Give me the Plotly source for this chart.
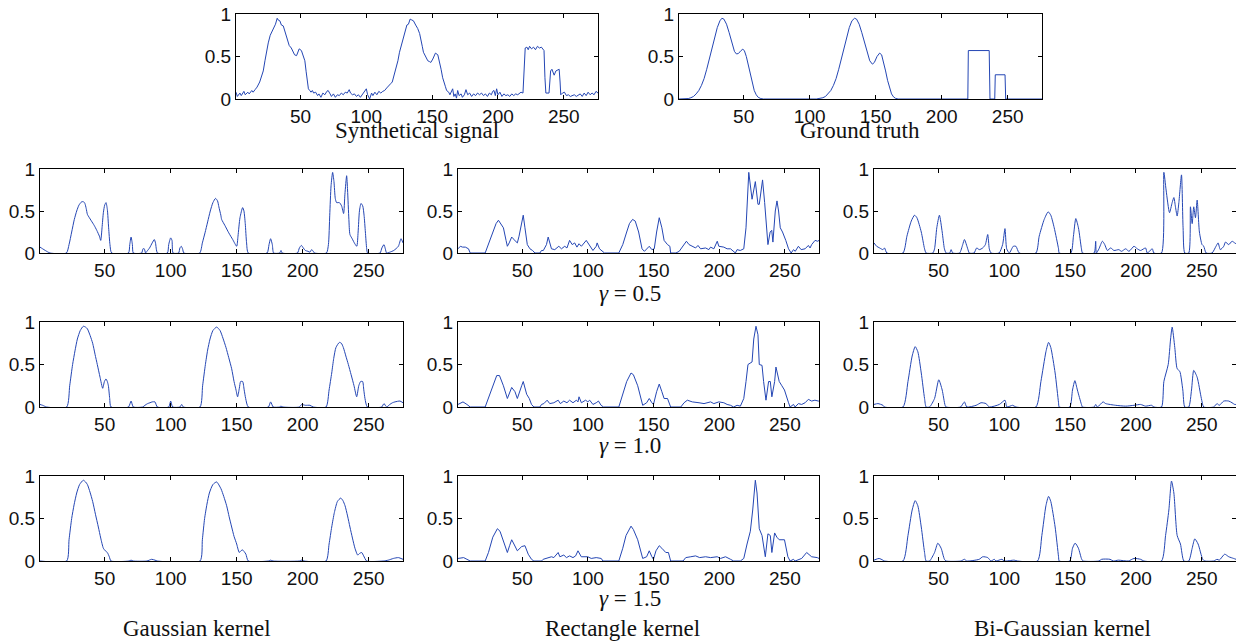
import plotly.graph_objects as go

# ---------------- data (x, y) ----------------
SYNTH = [(1,0.08),(2,0.03),(4,0.07),(5,0.04),(7,0.09),(8,0.05),(10,0.08),(11,0.06),(13,0.1),(14,0.08),(15.5,0.11),(17,0.14),(19,0.2),(20.5,0.27),(21.7,0.33),(23,0.45),(24,0.55),(25.5,0.66),(27,0.75),(28.5,0.8),(29.8,0.86),(31,0.88),(32.3,0.95),(33,0.93),(34.3,0.92),(35.5,0.87),(36.9,0.86),(38,0.8),(39.4,0.75),(40.5,0.68),(41.4,0.63),(43,0.6),(44.4,0.55),(45.5,0.52),(47,0.51),(48,0.56),(49,0.59),(50.7,0.57),(52,0.52),(53.3,0.45),(54.3,0.32),(55.3,0.2),(56,0.12),(57,0.1),(58,0.08),(59,0.1),(60,0.07),(61.5,0.08),(63,0.04),(64,0.06),(65.5,0.02),(67,0.07),(68.5,0.05),(70,0.09),(71,0.1),(72.5,0.06),(73.5,0.03),(75,0.06),(76.5,0.02),(78,0.05),(79.5,0.04),(81,0.07),(82.5,0.05),(84,0.08),(85.5,0.07),(87,0.11),(88,0.07),(89.5,0.05),(91,0.06),(92.5,0.03),(94,0.05),(95.5,0.02),(97,0.05),(98.5,0.08),(100,0.12),(101,0.05),(102.5,0.0),(104,0.07),(105,0.04),(106.5,0.08),(108,0.05),(109.5,0.09),(111,0.07),(112.5,0.09),(113.9,0.1),(115.5,0.13),(117,0.15),(118.5,0.18),(119.7,0.2),(121,0.27),(122.7,0.35),(124,0.45),(125.2,0.55),(126.8,0.65),(128.3,0.75),(129.5,0.82),(130.8,0.87),(132,0.88),(133.3,0.94),(134.5,0.93),(135.8,0.92),(137.5,0.87),(139,0.83),(140.5,0.77),(141.7,0.7),(142.5,0.62),(143.4,0.55),(145,0.5),(146.7,0.45),(148,0.44),(149,0.43),(150.5,0.47),(152.5,0.54),(154.3,0.52),(155.5,0.45),(156.8,0.35),(158,0.25),(159,0.18),(160,0.15),(161,0.1),(162.6,0.08),(163.5,0.05),(164.5,0.09),(165.6,0.12),(166.5,0.03),(167.5,0.06),(168.5,0.01),(169.4,0.1),(170.5,0.04),(172,0.06),(173,0.02),(174.5,0.05),(175.7,0.11),(177,0.05),(178.5,0.07),(180,0.03),(181.5,0.06),(183,0.04),(184.5,0.07),(186,0.05),(187.5,0.07),(189,0.04),(190.5,0.06),(192,0.03),(193.5,0.07),(195,0.05),(196,0.09),(197,0.1),(198,0.04),(199,0.12),(200,0.05),(201.5,0.08),(203,0.03),(204.5,0.06),(206,0.04),(207.5,0.05),(209,0.03),(210.5,0.06),(212,0.04),(213.5,0.06),(215,0.05),(216.5,0.07),(217.5,0.08),(219,0.07),(220,0.35),(220.7,0.6),(222,0.61),(223,0.58),(224,0.62),(225.5,0.59),(227,0.61),(228.5,0.58),(230,0.62),(231.5,0.6),(233,0.61),(234.3,0.59),(235,0.57),(235.7,0.25),(236.4,0.07),(238.8,0.07),(239.5,0.2),(240,0.33),(241,0.35),(242,0.3),(242.7,0.28),(244,0.33),(245,0.34),(246.5,0.35),(247.2,0.2),(247.7,0.05),(249,0.07),(250.5,0.08),(252,0.04),(253.5,0.05),(255,0.03),(256.5,0.04),(258,0.05),(259.5,0.03),(261,0.05),(262.5,0.06),(264,0.03),(265.5,0.07),(267,0.04),(268.5,0.08),(270,0.05),(271.5,0.07),(273,0.05),(274.5,0.09),(276,0.07)]

TRUTH = [(1,0),(6,0),(8,0.005),(10,0.015),(12,0.03),(14,0.06),(16,0.1),(18,0.16),(20,0.24),(22,0.35),(24,0.47),(26,0.6),(28,0.72),(30,0.84),(32,0.92),(33.5,0.95),(35,0.94),(37,0.88),(39,0.78),(41,0.66),(43,0.56),(44.5,0.53),(46,0.535),(48,0.57),(49.3,0.585),(50.5,0.57),(52,0.5),(53.5,0.4),(55,0.29),(56.5,0.18),(58,0.1),(59.5,0.05),(61,0.02),(63,0.005),(65,0),(105,0),(108,0.005),(110,0.015),(112,0.03),(114,0.06),(116,0.1),(118,0.16),(120,0.24),(122,0.35),(124,0.47),(126,0.6),(128,0.72),(130,0.84),(132,0.92),(134,0.95),(135.5,0.94),(137.5,0.88),(139.5,0.78),(141.5,0.66),(143.5,0.55),(145.5,0.45),(147.5,0.41),(149,0.43),(151,0.5),(153,0.54),(154.5,0.52),(156,0.44),(157.5,0.33),(159,0.22),(160.5,0.13),(162,0.06),(163.5,0.025),(165,0.008),(167,0),(219.8,0),(220.2,0.57),(236,0.57),(236.6,0),(240.2,0),(240.6,0.285),(248,0.285),(248.5,0),(276,0)]

GAUSS_05 = [(1,0.07),(3,0.05),(5,0.03),(8.6,0),(21,0),(23,0.1),(25,0.25),(27,0.4),(28.8,0.5),(30.5,0.57),(32.6,0.61),(34,0.61),(35,0.59),(36,0.53),(36.9,0.46),(38,0.43),(40,0.38),(42,0.33),(44,0.27),(46,0.2),(47,0.15),(48,0.3),(49,0.48),(50,0.57),(51,0.6),(52,0.52),(53,0.3),(54,0.1),(55.3,0),(68,0),(69,0.1),(70,0.19),(71,0.1),(71.7,0),(78,0),(79,0.05),(80,0.05),(81,0),(82,0.02),(84,0.06),(86,0.12),(87.6,0.16),(88.5,0.12),(90,0),(97.5,0),(98.5,0.1),(100,0.18),(101,0.15),(101.8,0),(106,0),(107,0.06),(108,0.08),(109,0.05),(110,0),(122,0),(124,0.12),(126,0.24),(128,0.37),(130,0.5),(132,0.6),(134,0.65),(135.5,0.62),(136.5,0.55),(138,0.45),(138.6,0.4),(141,0.33),(144,0.24),(147,0.16),(150,0.08),(151,0.2),(152.5,0.42),(154.5,0.54),(155.5,0.5),(156.5,0.35),(157.5,0.12),(158.8,0),(173,0),(174.5,0.1),(175.7,0.17),(177,0.1),(178,0),(182.5,0),(183.6,0.03),(184.5,0),(196,0),(197.5,0.06),(199,0.09),(200.5,0.06),(202,0.03),(204,0.02),(205.5,0.01),(206.8,0.04),(208,0.02),(209,0),(218,0),(219.5,0.1),(220.5,0.45),(221.5,0.8),(222.7,0.96),(223.7,0.85),(224.7,0.65),(225.7,0.6),(227.8,0.6),(229.5,0.56),(231,0.47),(232,0.7),(233.3,0.92),(234,0.75),(235,0.4),(235.8,0.22),(237.5,0.17),(239.5,0.11),(241,0.08),(242,0.25),(243,0.5),(244.2,0.59),(245.5,0.56),(246.5,0.45),(247.5,0.25),(248.5,0.05),(249.2,0),(258.6,0),(260,0.06),(261.6,0.1),(262.6,0.05),(263.6,0),(266,0.01),(269,0.03),(272.5,0.08),(274.5,0.17),(276,0.12)]

RECT_05 = [(1,0.05),(2.8,0.08),(4.5,0.07),(6.6,0.07),(9,0.05),(10.3,0),(21.7,0),(24.2,0.1),(26,0.17),(28,0.25),(30,0.35),(31.8,0.39),(33.6,0.35),(35.6,0.3),(37.6,0.15),(38.6,0.08),(40,0.12),(41.9,0.19),(43,0.17),(44.4,0.15),(46.2,0.12),(47.5,0.2),(48.7,0.3),(50.7,0.45),(52,0.3),(53.8,0.1),(55.8,0.05),(57.8,0.03),(59.6,0),(63.4,0),(64.6,0.03),(66,0.03),(68.4,0.1),(69.7,0.19),(72.2,0.05),(74.7,0.04),(77.8,0.08),(79.8,0.05),(82.3,0.08),(84,0.06),(86,0.15),(88,0.1),(89.9,0.12),(91.6,0.07),(93.2,0.11),(95,0.08),(98.7,0.15),(101.3,0.08),(103.8,0.03),(106.3,0.08),(107,0.12),(108.8,0.05),(110.8,0.02),(112.6,0),(123.5,0),(126.5,0.1),(129.5,0.25),(131.6,0.35),(134,0.4),(136,0.38),(138.6,0.25),(141.2,0.05),(143,0.02),(146.7,0.08),(148.7,0.04),(150.5,0.05),(152.3,0.25),(154.3,0.42),(156.3,0.3),(158,0.15),(160.6,0.1),(162.4,0.08),(163,0),(167,0),(169.5,0.02),(173.2,0.1),(175,0.14),(177,0.1),(179.5,0.08),(182,0.06),(183.8,0.09),(185.8,0.05),(189.6,0.06),(192.1,0.04),(193.4,0.07),(195.9,0.05),(198.5,0.14),(199.7,0.08),(203.5,0.07),(206,0.05),(208.6,0.05),(211,0.02),(212.3,0),(213.6,0.04),(216,0.03),(218.7,0.05),(220.4,0.3),(222.5,0.96),(223.7,0.82),(225,0.64),(227.5,0.85),(229.5,0.58),(230.5,0.58),(233,0.87),(234.6,0.6),(236.4,0.15),(237.1,0.1),(238.8,0.25),(240,0.27),(240.9,0.13),(241.9,0.35),(242.7,0.5),(244,0.62),(245.2,0.5),(246.5,0.3),(248.2,0.25),(250.7,0.15),(252.8,0.05),(254.8,0),(256.6,0.04),(257.9,0.02),(260.3,0.08),(262.4,0.04),(265.4,0.05),(267.9,0.09),(269.2,0.06),(270.4,0.1),(273,0.15),(275,0.14),(276,0.15)]

BIGAUSS_05 = [(1,0.12),(3,0.08),(5.3,0.06),(7.8,0.04),(9,0.06),(10.8,0),(23,0),(26,0.2),(29.3,0.38),(31.8,0.45),(33.6,0.42),(36.9,0.25),(39.4,0.05),(40.6,0),(45.7,0),(47,0.05),(48.7,0.3),(50.7,0.45),(52.8,0.25),(54.5,0.05),(55.8,0),(58.5,0),(59.6,0.04),(60.8,0),(66,0),(68.4,0.1),(69.7,0.16),(72.2,0.05),(73.4,0),(77,0),(79,0.06),(81,0.04),(83.6,0.06),(85.6,0.1),(87.4,0.22),(88.6,0.05),(89.9,0),(96,0),(98.7,0.1),(100.5,0.29),(101.8,0.05),(103.8,0),(106.8,0.08),(108.8,0.08),(111.4,0),(124,0),(126.5,0.2),(130.3,0.4),(133.3,0.49),(135.3,0.45),(137.9,0.3),(141.2,0.05),(141.7,0),(150.5,0),(152.5,0.2),(154.3,0.41),(156.3,0.3),(158.6,0.05),(159.4,0),(168.2,0),(169.4,0.14),(169.9,0),(171.9,0.05),(174.5,0.14),(176.3,0.1),(178.3,0.03),(180.8,0.06),(183.3,0.03),(187,0.04),(189,0.02),(192.2,0.05),(194.7,0.02),(198.5,0.08),(201,0.05),(203.5,0.03),(207.3,0.06),(208.6,0),(212.4,0.05),(213.6,0),(219.4,0),(221.2,0.96),(222.9,0.75),(225.5,0.48),(227.5,0.6),(228.8,0.66),(230,0.55),(231.3,0.44),(232.6,0.6),(234.6,0.93),(235.8,0.3),(237.1,0),(240.1,0),(241.4,0.55),(242.7,0.35),(243.9,0.55),(245.2,0.42),(246.5,0.63),(248.2,0.25),(250.2,0.1),(251.5,0.08),(253.3,0),(257.8,0),(260.8,0.08),(262.4,0.12),(264.1,0.04),(266.7,0.08),(268,0.13),(270.5,0.1),(273,0.14),(275,0.12),(276,0.11)]

GAUSS_10 = [(1,0.03),(3,0.02),(6,0),(21.2,0),(23.5,0.25),(25.7,0.5),(27.5,0.66),(29.3,0.8),(31.5,0.9),(33.8,0.95),(35.5,0.94),(36.9,0.92),(39,0.84),(40.9,0.75),(42.7,0.62),(44.4,0.5),(46.5,0.35),(48.5,0.22),(49.8,0.3),(51,0.33),(52,0.3),(52.8,0.25),(53.8,0.1),(54.8,0),(68,0),(70,0.07),(71.7,0),(78.8,0),(80.5,0.02),(82.5,0.04),(84.3,0.05),(86,0.06),(88.1,0.06),(89.9,0),(98.5,0),(100,0.07),(101.5,0),(107,0),(108.3,0.03),(109.7,0),(122.2,0),(124.2,0.25),(126.3,0.5),(128,0.67),(129.8,0.8),(132,0.9),(134.8,0.94),(137.4,0.9),(139.6,0.81),(141.9,0.7),(144,0.58),(146.2,0.45),(148,0.3),(149.5,0.2),(150.7,0.12),(152,0.22),(153,0.3),(154.5,0.3),(155.7,0.2),(156.8,0.1),(158.8,0),(174,0),(175.7,0.06),(177.7,0),(182.5,0),(183.5,0.01),(185,0),(197.5,0),(199.2,0.03),(202,0.02),(205.5,0.02),(208,0),(217.7,0),(220,0.2),(222,0.4),(223.5,0.57),(225.2,0.7),(227.8,0.76),(229.3,0.75),(230.8,0.7),(232.7,0.6),(234.6,0.5),(236.7,0.38),(238.9,0.25),(240.9,0.12),(242.5,0.25),(243.9,0.3),(245.4,0.3),(246.3,0.2),(247.2,0.1),(249,0),(259.8,0),(261.6,0.04),(263.6,0),(266,0.03),(268,0.05),(269.9,0.06),(273.7,0.07),(276,0.05)]

RECT_10 = [(1,0.03),(4.8,0.06),(7.8,0.03),(10.3,0),(21.7,0),(24.2,0.1),(27.5,0.25),(30.5,0.37),(32.6,0.37),(35.6,0.25),(38.6,0.1),(40.3,0.17),(41.9,0.23),(44.4,0.18),(46.2,0.1),(49.5,0.25),(50.7,0.3),(53.3,0.15),(55.3,0.1),(57,0.03),(58.8,0),(63.4,0),(64.6,0.03),(66.4,0.04),(68.9,0.08),(70.9,0.04),(74,0.05),(77.3,0.08),(79,0.04),(81.6,0.07),(84,0.05),(86,0.08),(88.6,0.05),(91.2,0.08),(92.4,0.06),(93.2,0.12),(95,0.05),(98.2,0.08),(99.9,0.06),(101.3,0.08),(103.8,0.03),(106.3,0.05),(108,0.07),(110,0.02),(111.9,0),(123.5,0),(126.5,0.15),(129.5,0.3),(132.8,0.4),(134.6,0.38),(137.9,0.25),(141.7,0.02),(144.7,0.05),(146.7,0.1),(148.7,0.05),(149.9,0.03),(152.3,0.18),(154.3,0.27),(156.3,0.18),(158,0.1),(160.6,0.1),(161.8,0.05),(163,0),(170.7,0),(173.2,0.05),(175.7,0.08),(179.5,0.06),(184.6,0.05),(188.4,0.04),(193.4,0.06),(195.9,0.04),(199.7,0.06),(203.5,0.05),(206,0.03),(208.6,0.02),(211,0),(213.6,0.02),(216.1,0.01),(218.7,0.1),(220.4,0.3),(221.9,0.5),(225,0.53),(226.3,0.8),(228,0.95),(229.5,0.85),(230.5,0.5),(232.6,0.49),(233.8,0.3),(235.6,0.08),(237.6,0.3),(238.9,0.3),(240.1,0.12),(242.2,0.3),(243.2,0.47),(245.7,0.3),(247.7,0.25),(249.7,0.2),(252.8,0.05),(254,0),(256.6,0.03),(257.8,0),(260.3,0.04),(262.8,0.03),(265.4,0.05),(267.9,0.09),(270.4,0.07),(272.9,0.08),(275.5,0.07),(276,0.07)]

BIGAUSS_10 = [(1,0.03),(4,0.04),(7.8,0.02),(9,0),(23,0),(26.8,0.3),(30,0.6),(32.3,0.71),(34.3,0.65),(36.9,0.4),(39.4,0.1),(40.6,0),(43.2,0),(47,0.1),(50.2,0.32),(52.8,0.2),(55,0.02),(55.8,0),(66.7,0),(69.7,0.06),(71.5,0),(78.6,0.02),(82.3,0.05),(86.1,0.04),(88.6,0),(96.2,0.03),(100.5,0.08),(102,0),(106.3,0.02),(108.8,0),(124,0),(127.8,0.3),(131.6,0.65),(133.6,0.76),(135.3,0.7),(138.6,0.4),(141.2,0.05),(141.7,0),(149.7,0),(151.8,0.2),(153.6,0.31),(155.5,0.2),(158.6,0.03),(159.4,0),(168.2,0),(169.4,0.03),(170.7,0),(175,0.06),(177,0.04),(184.6,0.02),(192.2,0.01),(198.5,0.02),(203.5,0.03),(207.3,0.01),(211.9,0.02),(213.6,0),(219.4,0),(221.2,0.3),(224.5,0.5),(226.3,0.8),(227.5,0.94),(229.5,0.7),(231.3,0.45),(233.3,0.42),(235.6,0.2),(237.1,0),(240.1,0),(242.2,0.2),(243.9,0.43),(246.5,0.35),(249.7,0.1),(251.5,0),(259,0),(261.6,0.04),(263.3,0.02),(266.7,0.07),(270.5,0.07),(273,0.05),(275,0.03),(276,0.03)]

GAUSS_15 = [(1,0),(21.2,0),(23,0.25),(25,0.5),(26.8,0.66),(28.8,0.8),(31,0.9),(33.8,0.95),(35.5,0.93),(36.9,0.9),(38.9,0.81),(40.9,0.7),(43,0.55),(45.2,0.4),(47,0.27),(49,0.15),(50.5,0.12),(52,0.1),(53.5,0.05),(54.8,0),(68.5,0),(70,0.01),(71.5,0),(82,0),(85.6,0.02),(88.1,0.01),(90,0),(122.2,0),(124,0.25),(125.7,0.5),(127.5,0.67),(129.3,0.8),(132,0.9),(134.8,0.93),(138.1,0.85),(140.2,0.76),(142.4,0.65),(144.3,0.52),(146.2,0.4),(148,0.29),(150,0.2),(151,0.14),(152,0.1),(153.2,0.12),(154.5,0.13),(155.7,0.11),(157,0.08),(158.8,0),(174,0),(175.7,0.01),(177.5,0),(197.5,0),(199.2,0.01),(201,0),(217.7,0),(220,0.2),(222,0.4),(224,0.57),(226.3,0.7),(228.8,0.74),(230.5,0.71),(232.1,0.65),(234,0.53),(235.8,0.4),(237.7,0.27),(239.6,0.15),(241.7,0.07),(243.2,0.09),(244.7,0.1),(246.2,0.06),(248.5,0),(261,0),(264.8,0.01),(268.7,0.03),(272.5,0.04),(276,0.02)]

RECT_15 = [(1,0.03),(5.3,0.04),(7.8,0.02),(10.3,0),(21.7,0),(24.2,0.1),(27.5,0.28),(31,0.38),(33,0.35),(36.1,0.2),(38.6,0.1),(40.3,0.18),(41.9,0.25),(43.6,0.2),(46.2,0.12),(49.5,0.17),(52,0.18),(54.5,0.08),(57,0.02),(58.8,0),(64.6,0),(65.9,0.02),(68.4,0.03),(72.2,0.05),(74,0.04),(77.3,0.1),(78.6,0.05),(81.6,0.07),(83.6,0.04),(86,0.06),(88.6,0.04),(90.6,0.06),(92.4,0.12),(94.9,0.05),(99.9,0.05),(102.5,0.03),(106.3,0.04),(110.1,0.03),(111.4,0),(123.5,0),(126.5,0.15),(129,0.3),(132.8,0.41),(134.6,0.37),(137.9,0.25),(141.7,0.03),(144.7,0.05),(146.7,0.12),(148.7,0.05),(149.9,0.02),(151.8,0.12),(154.3,0.18),(156.3,0.15),(159.3,0.1),(161.3,0.1),(162.3,0.03),(163,0),(172.4,0),(174.5,0.04),(178.3,0.05),(182,0.06),(185.1,0.04),(189.6,0.05),(193.4,0.04),(198.5,0.05),(201,0.03),(204.8,0.05),(208.6,0.02),(211,0),(216.1,0),(218.7,0.03),(221.2,0.2),(223.7,0.35),(225.5,0.6),(227.5,0.95),(228.8,0.8),(230.5,0.38),(232.6,0.3),(235.1,0.05),(237.1,0.32),(238.9,0.3),(240.1,0.1),(242.2,0.33),(243.9,0.28),(245.7,0.25),(249.7,0.25),(252.3,0.05),(254,0),(256.6,0.02),(257.8,0),(260.8,0.02),(262.8,0.03),(266.6,0.1),(267.9,0.08),(270.4,0.05),(274.7,0.04),(276,0.03)]

BIGAUSS_15 = [(1,0.01),(4.8,0.03),(7.8,0.01),(9,0),(23,0),(26.8,0.3),(30,0.6),(32.3,0.71),(34.3,0.65),(36.9,0.4),(39.4,0.1),(40.6,0),(43.2,0),(47,0.1),(49.5,0.21),(52,0.15),(54.5,0.02),(55.8,0),(67,0),(69.7,0.02),(71.5,0),(80.9,0.02),(83.6,0.05),(87.4,0.04),(89.9,0),(92.4,0.02),(93.7,0),(98.2,0.02),(100,0),(107.5,0.01),(110,0),(125.2,0),(128.5,0.3),(131.6,0.65),(133.6,0.76),(135.3,0.7),(138.6,0.4),(141.2,0.05),(141.7,0),(149.7,0),(151.8,0.15),(153.8,0.21),(156.3,0.15),(158.8,0.02),(159.9,0),(171.9,0),(173.9,0.02),(180.3,0.02),(182.8,0),(186.6,0.01),(194.2,0),(198.5,0.03),(203.5,0.02),(206,0),(219.4,0),(222.5,0.3),(225,0.6),(227,0.94),(228.8,0.8),(231.3,0.3),(233.8,0.2),(236.4,0),(240.1,0),(242.7,0.15),(244.7,0.26),(247.2,0.2),(250.7,0.02),(252.3,0),(259,0),(261.6,0.02),(263.3,0.01),(267.4,0.08),(270.5,0.05),(274.2,0.03),(276,0.02)]

X_TICKS = [50, 100, 150, 200, 250]
Y_TICKS = [0, 0.5, 1]
Y_TICK_TEXT = ["0", "0.5", "1"]
X_RANGE = [1, 276]

TOP_TITLES = ["Synthetical signal", "Ground truth"]
GAMMA_LABELS = ["<i>γ</i> = 0.5", "<i>γ</i> = 1.0", "<i>γ</i> = 1.5"]
KERNEL_LABELS = ["Gaussian kernel", "Rectangle kernel", "Bi-Gaussian kernel"]

# ---------------- layout geometry (pixels) ----------------
W, H = 1236, 642
LINE_COLOR = "#2446b4"

def px_x(a, b):
    return [a / W, min(b / W, 1.0)]

def px_y(top, bottom):
    return [1 - bottom / H, 1 - top / H]

panels = [
    # (data, x-domain px, y-domain px, smooth)
    (SYNTH, (236, 598), (14, 99), False),
    (TRUTH, (679, 1042), (14, 99), False),
    (GAUSS_05, (40, 403), (169, 253), True),
    (RECT_05, (458, 819), (169, 253), False),
    (BIGAUSS_05, (874, 1236), (169, 253), True),
    (GAUSS_10, (40, 403), (322, 407), True),
    (RECT_10, (458, 819), (322, 407), False),
    (BIGAUSS_10, (874, 1236), (322, 407), True),
    (GAUSS_15, (40, 403), (476, 561), True),
    (RECT_15, (458, 819), (476, 561), False),
    (BIGAUSS_15, (874, 1236), (476, 561), True),
]

fig = go.Figure()
layout = {}
tick_font = dict(family="Liberation Sans, Arial, sans-serif", size=19, color="#111111")
for i, (data, xd, yd, smooth) in enumerate(panels, start=1):
    xs = [p[0] for p in data]
    ys = [p[1] for p in data]
    sfx = "" if i == 1 else str(i)
    line = dict(color=LINE_COLOR, width=1)
    if smooth:
        line.update(shape="spline", smoothing=0.6)
    fig.add_trace(go.Scatter(x=xs, y=ys, mode="lines", line=line,
                             xaxis="x" + sfx, yaxis="y" + sfx,
                             showlegend=False, hoverinfo="skip"))
    common = dict(showline=True, linecolor="black", linewidth=1, mirror="ticks",
                  ticks="inside", ticklen=4, tickwidth=1, tickcolor="black",
                  showgrid=False, zeroline=False, tickfont=tick_font,
                  automargin=False)
    layout["xaxis" + sfx] = dict(domain=px_x(*xd), range=X_RANGE, tickvals=X_TICKS,
                                 anchor="y" + sfx, **common)
    layout["yaxis" + sfx] = dict(domain=px_y(*yd), range=[0, 1], tickvals=Y_TICKS,
                                 ticktext=Y_TICK_TEXT, anchor="x" + sfx, **common)

fig.update_layout(**layout)

serif = dict(family="Liberation Serif, Times New Roman, serif", size=23, color="#111111")
ann = []
def label(text, cx, cy):
    ann.append(dict(text=text, x=cx / W, y=1 - cy / H, xref="paper", yref="paper",
                    showarrow=False, xanchor="center", yanchor="middle", font=serif,
                    borderpad=0))

label(TOP_TITLES[0], 417, 131)
label(TOP_TITLES[1], 860, 131)
label(GAMMA_LABELS[0], 630, 293)
label(GAMMA_LABELS[1], 630, 445)
label(GAMMA_LABELS[2], 630, 598)
label(KERNEL_LABELS[0], 197, 628)
label(KERNEL_LABELS[1], 622, 628)
label(KERNEL_LABELS[2], 1062, 628)

fig.update_layout(width=W, height=H,
                  margin=dict(l=0, r=0, t=0, b=0, pad=0, autoexpand=False),
                  paper_bgcolor="white", plot_bgcolor="white", annotations=ann)

fig.write_html("out.html",
               config={"responsive": False, "displayModeBar": False},
               post_script="document.body.style.margin='0';"
                           "document.body.style.overflow='hidden';")
